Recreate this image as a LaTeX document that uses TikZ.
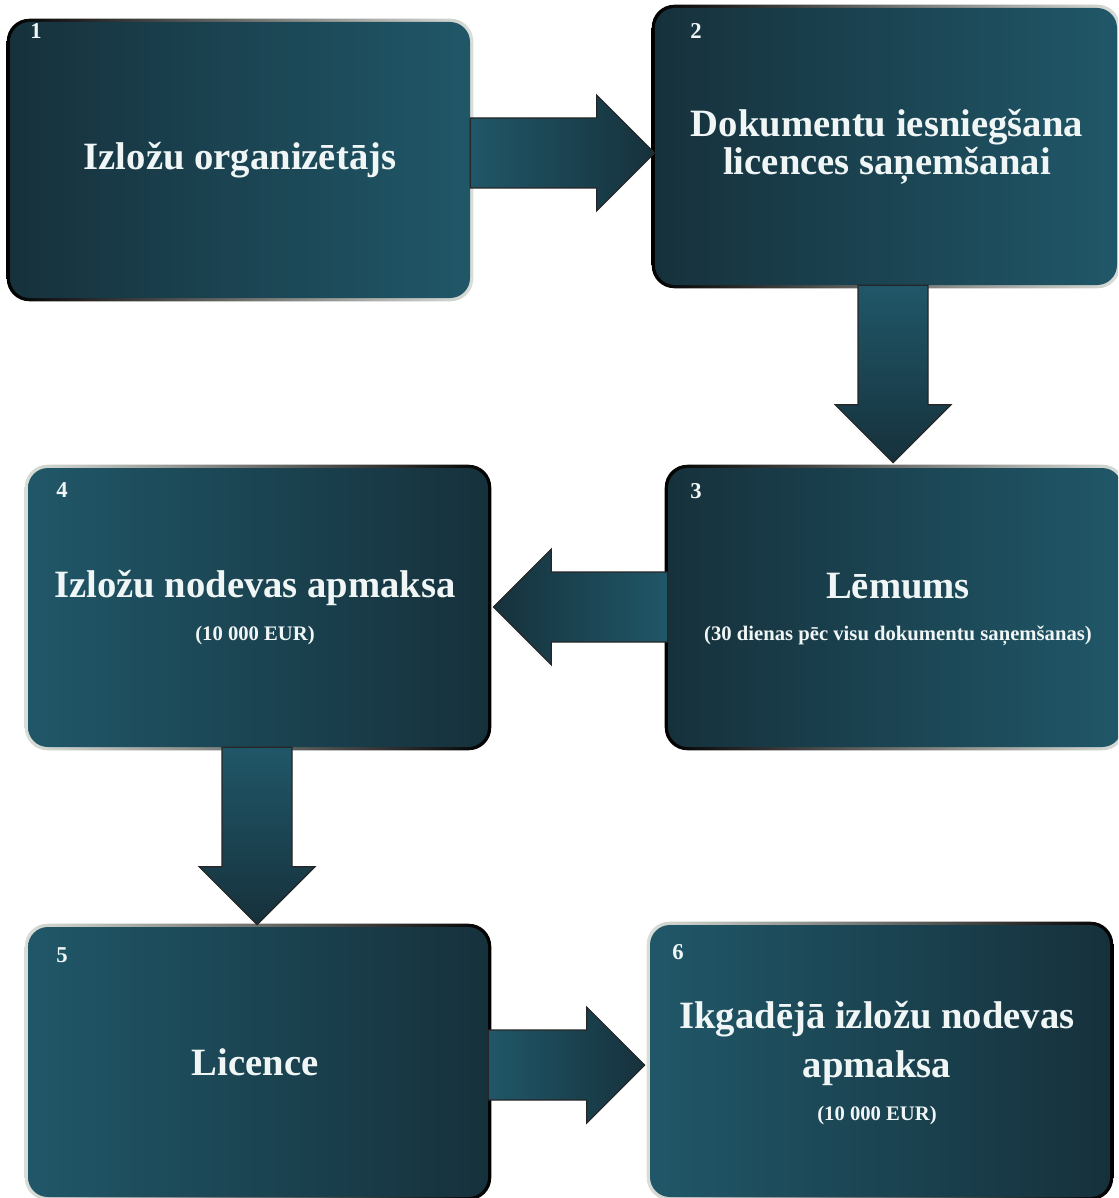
\documentclass[tikz,border=0pt]{standalone}
\usepackage{fontspec}
\setmainfont{Liberation Serif}
\usetikzlibrary{calc}
\definecolor{tealL}{RGB}{32,87,104}
\definecolor{tealD}{RGB}{22,49,60}
\definecolor{txt}{RGB}{240,246,246}
\definecolor{rimL}{RGB}{218,222,216}
\tikzset{
  box/.style={rounded corners=15pt, inner sep=0pt, draw=none},
  boxR/.style={box, left color=tealD, right color=tealL},
  boxL/.style={box, left color=tealL, right color=tealD},
  rimR/.style={rounded corners=17pt, left color=black, right color=rimL},
  rimL/.style={rounded corners=17pt, left color=rimL, right color=black},
  title/.style={text=txt, font=\fontsize{29}{28.5}\selectfont\bfseries, align=center, anchor=base, inner sep=0pt},
  sub/.style={text=txt, font=\fontsize{15.5}{18}\selectfont\bfseries, anchor=base, inner sep=0pt},
  num/.style={text=txt, font=\fontsize{17}{20}\selectfont\bfseries, inner sep=0pt},
  arrowbody/.style={draw=black!85, line width=0.8pt, line join=miter},
  arrowH/.style={arrowbody, left color=tealL, right color=tealD},
  arrowHL/.style={arrowbody, left color=tealD, right color=tealL},
  arrowV/.style={arrowbody, top color=tealL, bottom color=tealD},
}
\newcommand\rimbox[2]{\path[#2] ($(#1.north west)+(-3,-3)$) rectangle ($(#1.south east)+(3,3)$);}
\newcommand\blockarrow[3]{%
  \coordinate (ab) at ($(#2)!43.5pt!(#1)$);
  \path[#3] ($(#1)!26.25pt!90:(#2)$) -- ($(ab)!26.25pt!90:(#2)$) -- ($(ab)!43.5pt!90:(#2)$) -- (#2)
     -- ($(ab)!43.5pt!-90:(#2)$) -- ($(ab)!26.25pt!-90:(#2)$) -- ($(#1)!26.25pt!-90:(#2)$) -- cycle;}
\begin{document}
\begin{tikzpicture}[x=0.75pt,y=-0.75pt]
\useasboundingbox (0,0) rectangle (1118,1198);
\clip (0,0) rectangle (1118,1198);
\fill[white] (0,0) rectangle (1118,1198);
% box geometry (invisible placeholders for rims)
\path (240,160) node[box, minimum width=345pt, minimum height=207pt] (b1) {};
\path (886,146.5) node[box, minimum width=346.5pt, minimum height=207.75pt] (b2) {};
\path (895,607.5) node[box, minimum width=340.5pt, minimum height=209.25pt] (b3) {};
\path (258,607.5) node[box, minimum width=345pt, minimum height=209.25pt] (b4) {};
\path (258,1062) node[box, minimum width=345pt, minimum height=202.5pt] (b5) {};
\path (880,1061) node[box, minimum width=345pt, minimum height=204pt] (b6) {};
\rimbox{b1}{rimR}\rimbox{b2}{rimR}\rimbox{b3}{rimR}
\rimbox{b4}{rimL}\rimbox{b5}{rimL}\rimbox{b6}{rimL}
\path (240,160) node[boxR, minimum width=345pt, minimum height=207pt] {};
\path (886,146.5) node[boxR, minimum width=346.5pt, minimum height=207.75pt] {};
\path (895,607.5) node[boxR, minimum width=340.5pt, minimum height=209.25pt] {};
\path (258,607.5) node[boxL, minimum width=345pt, minimum height=209.25pt] {};
\path (258,1062) node[boxL, minimum width=345pt, minimum height=202.5pt] {};
\path (880,1061) node[boxL, minimum width=345pt, minimum height=204pt] {};
% arrows
\coordinate (a1s) at ($(b1.east)+(0,-7)$);   \coordinate (a1t) at ($(b2.west)+(0,6.5)$);
\coordinate (a2s) at ($(b2.south)+(7,0)$);   \coordinate (a2t) at ($(b3.north)+(-2,-5)$);
\coordinate (a3s) at ($(b3.west)+(0,-0.5)$); \coordinate (a3t) at ($(b4.east)+(5,-0.5)$);
\coordinate (a4s) at ($(b4.south)+(-1,0)$);  \coordinate (a4t) at ($(b5.north)+(-1,-2)$);
\coordinate (a5s) at ($(b5.east)+(0,3)$);    \coordinate (a5t) at ($(b6.west)+(-5,4)$);
\blockarrow{a1s}{a1t}{arrowH}
\blockarrow{a2s}{a2t}{arrowV}
\blockarrow{a3s}{a3t}{arrowHL}
\blockarrow{a4s}{a4t}{arrowV}
\blockarrow{a5s}{a5t}{arrowH}
% texts
\node[title] (t1) at (240,170) {Izložu organizētājs};
\node[title] (t2) at (887,175) {Dokumentu iesniegšana\\licences saņemšanai};
\node[title] (t3) at (898,598) {Lēmums};
\node[sub]   (s3) at (898,640) {(30 dienas pēc visu dokumentu saņemšanas)};
\node[title] (t4) at (255,597) {Izložu nodevas apmaksa};
\node[sub]   (s4) at (255,640) {(10 000 EUR)};
\node[title] (t5) at (255,1075) {Licence};
\node[title] (t6) at (877,1077) {Ikgadējā izložu nodevas\\[8pt]apmaksa};
\node[sub]   (s6) at (877,1120) {(10 000 EUR)};
\node[num] (n1) at (36,31) {1};
\node[num] (n2) at (696,31) {2};
\node[num] (n3) at (696,491) {3};
\node[num] (n4) at (62,490) {4};
\node[num] (n5) at (62,955) {5};
\node[num] (n6) at (678,952) {6};
\end{tikzpicture}
\end{document}
